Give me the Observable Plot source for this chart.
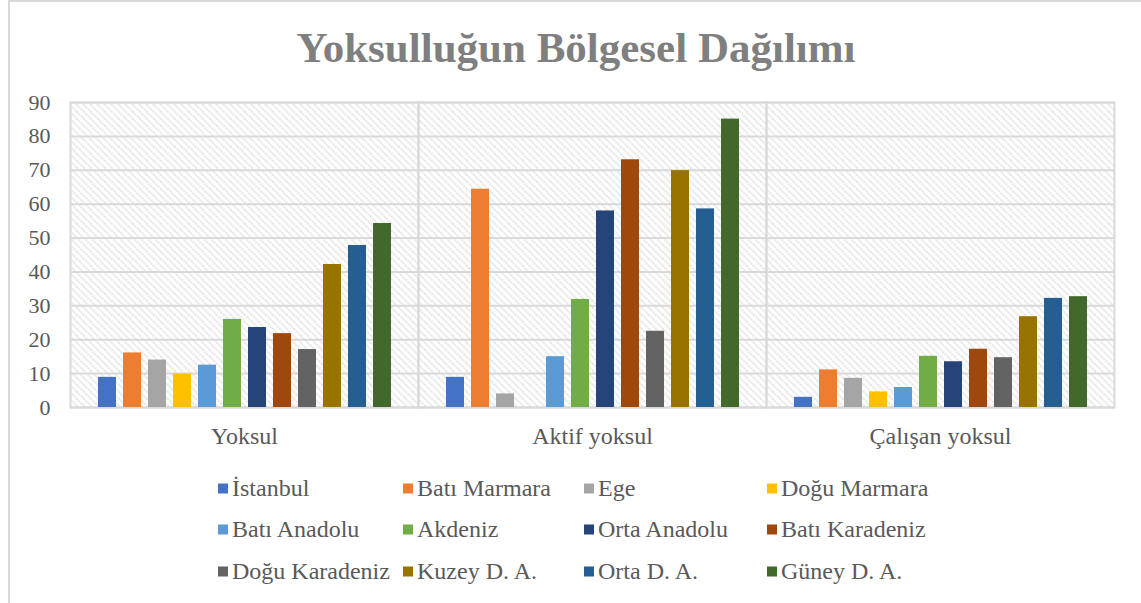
<!DOCTYPE html>
<html>
<head>
<meta charset="utf-8">
<script src="https://cdn.jsdelivr.net/npm/d3@7"></script>
<script src="https://cdn.jsdelivr.net/npm/@observablehq/plot@0.6"></script>
<style>
  html, body { margin: 0; padding: 0; background: #fff; }
  #wrap { position: relative; width: 1141px; height: 603px; overflow: hidden; font-family: "Liberation Serif", "Times New Roman", serif; }
  #border { position: absolute; left: 8px; top: 0px; width: 1200px; height: 700px; border-left: 2px solid #d9d9d9; border-top: 2px solid #d9d9d9; box-sizing: border-box; }
  #title { position: absolute; left: 0; width: 1152px; top: 21px; text-align: center; font-weight: bold; font-size: 43px; color: #7f7f7f; line-height: 54px; }
  #chart { position: absolute; left: 0; top: 0; }
  #legend { position: absolute; left: 0; top: 0; width: 1141px; }
  .item { position: absolute; display: flex; align-items: center; font-size: 24px; color: #595959; white-space: nowrap; transform: translateY(-50%); }
  .sw { width: 10px; height: 10px; margin-right: 4px; }
</style>
</head>
<body>
<div id="wrap">
  <div id="border"></div>
  <div id="title">Yoksulluğun Bölgesel Dağılımı</div>
  <div id="chart"></div>
  <div id="legend"></div>
</div>
<script>
const categories = ["Yoksul", "Aktif yoksul", "Çalışan yoksul"];
const regions = ["İstanbul", "Batı Marmara", "Ege", "Doğu Marmara", "Batı Anadolu", "Akdeniz",
  "Orta Anadolu", "Batı Karadeniz", "Doğu Karadeniz", "Kuzey D. A.", "Orta D. A.", "Güney D. A."];
const colors = ["#4472C4", "#ED7D31", "#A5A5A5", "#FFC000", "#5B9BD5", "#70AD47",
  "#264478", "#9E480E", "#636363", "#997300", "#255E91", "#43682B"];
const yoksul       = [8.9, 16.1, 14.0, 9.9, 12.5, 26.0, 23.6, 21.8, 17.1, 42.2, 47.8, 54.3];
const aktifYoksul  = [8.9, 64.4, 4.0, 0, 15.0, 31.9, 58.0, 73.1, 22.5, 69.9, 58.6, 85.1];
const calisanYoksul= [3.0, 11.1, 8.6, 4.6, 5.9, 15.1, 13.5, 17.2, 14.7, 26.8, 32.2, 32.7];
const yTicks = [0, 10, 20, 30, 40, 50, 60, 70, 80, 90];

const series = [yoksul, aktifYoksul, calisanYoksul];
const data = [];
categories.forEach((c, ci) => regions.forEach((r, ri) => data.push({category: c, region: r, value: series[ci][ri]})));

const plot = Plot.plot({
  width: 1141,
  height: 460,
  marginTop: 102,
  marginLeft: 70,
  marginRight: 27,
  marginBottom: 53,
  style: {fontFamily: "'Liberation Serif', 'Times New Roman', serif", fontSize: "22px", color: "#595959", background: "transparent"},
  fx: {domain: categories, padding: 0, label: null},
  x: {domain: regions, paddingInner: 0.3, paddingOuter: 0.94, axis: null},
  y: {domain: [0, 90], label: null},
  color: {domain: regions, range: colors},
  marks: [
    Plot.frame({fill: "url(#hatch)", stroke: null}),
    Plot.gridY(yTicks, {stroke: "#d9d9d9", strokeOpacity: 1, strokeWidth: 2}),
    Plot.frame({stroke: "#d9d9d9", strokeWidth: 2}),
    Plot.barY(data, {fx: "category", x: "region", y: "value", fill: "region"}),
    Plot.axisY(yTicks, {tickSize: 0, tickPadding: 20, label: null, fill: "#595959"}),
    Plot.axisFx({anchor: "bottom", tickSize: 0, tickPadding: 19, label: null, fill: "#595959", fontSize: 24})
  ]
});

// hatch pattern definition for plot background
const ns = "http://www.w3.org/2000/svg";
const defs = document.createElementNS(ns, "defs");
const pat = document.createElementNS(ns, "pattern");
pat.setAttribute("id", "hatch");
pat.setAttribute("patternUnits", "userSpaceOnUse");
pat.setAttribute("width", "7");
pat.setAttribute("height", "7");
const ln = document.createElementNS(ns, "path");
ln.setAttribute("d", "M-1,-1 L8,8 M-1,6 L1,8 M6,-1 L8,1");
ln.setAttribute("stroke", "#d4d4d4");
ln.setAttribute("stroke-width", "1.3");
ln.setAttribute("stroke-dasharray", "2 1");
pat.appendChild(ln);
defs.appendChild(pat);
plot.insertBefore(defs, plot.firstChild);
document.getElementById("chart").appendChild(plot);

// legend
const legendCols = [218, 403, 584, 767];
const legendRows = [488, 529, 571];
const legend = document.getElementById("legend");
regions.forEach((r, i) => {
  const div = document.createElement("div");
  div.className = "item";
  div.style.left = legendCols[i % 4] + "px";
  div.style.top = legendRows[Math.floor(i / 4)] + "px";
  const sw = document.createElement("span");
  sw.className = "sw";
  sw.style.background = colors[i];
  const t = document.createElement("span");
  t.textContent = r;
  div.appendChild(sw);
  div.appendChild(t);
  legend.appendChild(div);
});
</script>
</body>
</html>
